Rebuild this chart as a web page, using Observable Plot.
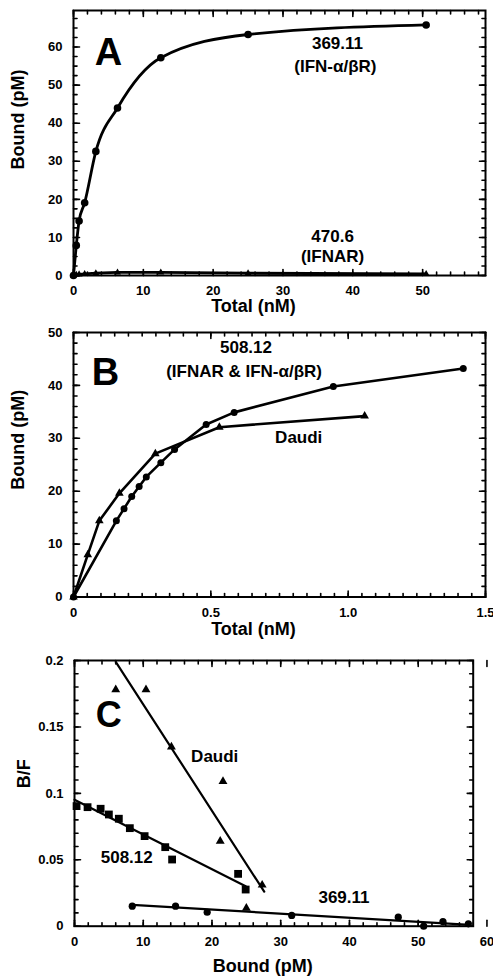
<!DOCTYPE html>
<html><head><meta charset="utf-8">
<script src="https://cdn.jsdelivr.net/npm/d3@7"></script>
<script src="https://cdn.jsdelivr.net/npm/@observablehq/plot@0.6"></script>
<style>
body{margin:0;background:#fff;}
#chart > svg{display:block;}
</style>
</head><body><div id="chart"></div>
<script>
// ---------- Panel A data ----------
const a369Total = [0, 0.4, 0.8, 1.6, 3.2, 6.3, 12.5, 25, 50.5];
const a369Bound = [0, 7.9, 14.3, 19.1, 32.6, 44.0, 57.2, 63.3, 65.8];
const a470Total = [0, 0.4, 0.8, 1.6, 3.2, 6.3, 12.5, 25, 50.5];
const a470Bound = [0, 0.2, 0.3, 0.4, 0.6, 0.8, 0.8, 0.6, 0.4];
const aXTicks = [0, 10, 20, 30, 40, 50];
const aYTicks = [0, 10, 20, 30, 40, 50, 60];
const aLabels = ["369.11", "(IFN-α/βR)", "470.6", "(IFNAR)"];
const aLabelX = [37.8, 37.5, 37.1, 37.1];
const aLabelY = [61.0, 54.9, 10.2, 5.0];

// ---------- Panel B data ----------
const b508Total = [0, 0.156, 0.184, 0.212, 0.239, 0.265, 0.318, 0.368, 0.483, 0.585, 0.946, 1.419];
const b508Bound = [0, 14.4, 16.7, 19.0, 20.9, 22.7, 25.4, 27.9, 32.6, 34.9, 39.8, 43.2];
const bDaudiTotal = [0, 0.052, 0.094, 0.167, 0.298, 0.531, 1.06];
const bDaudiBound = [0, 8.0, 14.4, 19.6, 27.1, 32.1, 34.2];
const bXTicks = [0, 0.5, 1.0, 1.5];
const bYTicks = [0, 10, 20, 30, 40, 50];
const bLabels = ["508.12", "(IFNAR & IFN-α/βR)", "Daudi"];
const bLabelX = [0.628, 0.621, 0.82];
const bLabelY = [47.1, 42.7, 30.2];

// ---------- Panel C data (Scatchard) ----------
const cDaudiBound = [6.0, 10.4, 14.1, 21.6, 21.2, 27.3, 25.0];
const cDaudiBF = [0.178, 0.178, 0.135, 0.109, 0.064, 0.031, 0.0136];
const c508Bound = [0.3, 1.9, 3.8, 5.0, 6.45, 8.05, 10.2, 13.2, 14.2, 23.8, 24.9];
const c508BF = [0.0904, 0.0896, 0.0884, 0.0841, 0.0809, 0.0738, 0.0678, 0.0595, 0.0502, 0.0394, 0.0276];
const c369Bound = [8.4, 14.7, 19.3, 31.6, 47.1, 50.8, 53.6, 57.3];
const c369BF = [0.0151, 0.0151, 0.0105, 0.0081, 0.0068, 0.0, 0.0035, 0.0018];
const cDaudiFitX = [6.0, 27.6], cDaudiFitY = [0.199, 0.026];
const c508FitX = [0, 24.9], c508FitY = [0.0952, 0.0301];
const c369FitX = [8.4, 57.5], c369FitY = [0.0161, 0.001];
const cXTicks = [0, 10, 20, 30, 40, 50, 60];
const cYTicks = [0, 0.05, 0.1, 0.15, 0.2];
const cLabels = ["Daudi", "508.12", "369.11"];
const cLabelX = [20.4, 7.6, 39.2];
const cLabelY = [0.1278, 0.052, 0.0218];

const FONT = "Liberation Sans, Arial, Helvetica, sans-serif";
const pts = (xs, ys) => xs.map((x, i) => ({x, y: ys[i]}));
const lbl = (ts, xs, ys) => ts.map((t, i) => ({t, x: xs[i], y: ys[i]}));
const range = (a, b, s) => d3.range(Math.round((b - a) / s) + 1).map(i => +(a + i * s).toFixed(4));

// inward tick segments on all four sides; pixel lengths converted to data units of each scale
function axes({xd, yd, fw, fh, xMajor, yMajor, xMinor, yMinor, xFmt, yFmt}) {
  const ux = (xd[1] - xd[0]) / fw, uy = (yd[1] - yd[0]) / fh;
  const segs = [];
  let k = 0;
  const addX = (ticks, len) => ticks.forEach(v => {
    segs.push({x: v, y: yd[0], z: k}, {x: v, y: yd[0] + len * uy, z: k}); k++;
    segs.push({x: v, y: yd[1], z: k}, {x: v, y: yd[1] - len * uy, z: k}); k++;
  });
  const addY = (ticks, len) => ticks.forEach(v => {
    segs.push({x: xd[0], y: v, z: k}, {x: xd[0] + len * ux, y: v, z: k}); k++;
    segs.push({x: xd[1], y: v, z: k}, {x: xd[1] - len * ux, y: v, z: k}); k++;
  });
  addX(xMajor, 6); addX(xMinor, 3.5); addY(yMajor, 6); addY(yMinor, 3.5);
  const lab = {label: null, tickSize: 0, fontSize: 13, fontWeight: "bold", fontFamily: FONT, fill: "black"};
  return [
    Plot.line(segs, {x: "x", y: "y", z: "z", stroke: "black", strokeWidth: 1.6}),
    Plot.axisX({...lab, ticks: xMajor.filter(v => v <= xd[1] + 1e-9), tickFormat: xFmt, tickPadding: 10.5}),
    Plot.axisY({...lab, ticks: yMajor, tickFormat: yFmt, tickPadding: 11}),
    Plot.frame({stroke: "black", strokeWidth: 2, fill: "none"})
  ];
}

function titles(xTitle, xdx, xdy, yTitle, ydx, ydy) {
  const o = {text: d => d, fontSize: 18, fontWeight: "bold", fontFamily: FONT, lineAnchor: "middle", fill: "black"};
  return [
    Plot.text([xTitle], {...o, frameAnchor: "bottom", dx: xdx, dy: xdy}),
    Plot.text([yTitle], {...o, frameAnchor: "left", rotate: -90, dx: ydx, dy: ydy})
  ];
}

const root = document.getElementById("chart");
const txt = {fontSize: 17, fontWeight: "bold", fontFamily: FONT, fill: "black"};

// ---------- Panel A ----------
const aX = [0, 59], aY = [0, 69.6];
root.append(Plot.plot({
  width: 493, height: 320,
  marginLeft: 73, marginRight: 8, marginTop: 10, marginBottom: 45,
  x: {domain: aX},
  y: {domain: aY},
  marks: [
    ...axes({xd: aX, yd: aY, fw: 412, fh: 265, xMajor: aXTicks, yMajor: aYTicks, xMinor: range(0, 58, 2), yMinor: range(0, 67.5, 2.5), xFmt: d => String(d), yFmt: d => String(d)}),
    Plot.line(pts(a470Total, a470Bound), {x: "x", y: "y", stroke: "black", strokeWidth: 2.8}),
    Plot.dot(pts(a470Total, a470Bound), {x: "x", y: "y", symbol: "triangle", r: 2.6, fill: "black"}),
    Plot.line(pts(a369Total, a369Bound), {x: "x", y: "y", curve: "monotone-x", stroke: "black", strokeWidth: 2.8}),
    Plot.dot(pts(a369Total, a369Bound), {x: "x", y: "y", symbol: "circle", r: 3.8, fill: "black"}),
    Plot.text(lbl(aLabels, aLabelX, aLabelY), {x: "x", y: "y", text: "t", ...txt}),
    Plot.text(["A"], {x: 5.0, y: 58.6, text: d => d, ...txt, fontSize: 38}),
    ...titles("Total (nM)", -26, 31, "Bound (pM)", -55, 26.5)
  ]
}));

// ---------- Panel B ----------
const bX = [0, 1.5], bY = [0, 50];
root.append(Plot.plot({
  width: 493, height: 320,
  marginLeft: 73, marginRight: 8, marginTop: 12, marginBottom: 43.5,
  x: {domain: bX},
  y: {domain: bY},
  marks: [
    ...axes({xd: bX, yd: bY, fw: 412, fh: 264.5, xMajor: bXTicks, yMajor: bYTicks, xMinor: range(0, 1.5, 0.05), yMinor: range(0, 50, 2), xFmt: d => d === 0 ? "0" : d.toFixed(1), yFmt: d => String(d)}),
    Plot.line(pts(bDaudiTotal, bDaudiBound), {x: "x", y: "y", stroke: "black", strokeWidth: 2.6}),
    Plot.dot(pts(bDaudiTotal, bDaudiBound), {x: "x", y: "y", symbol: "triangle", r: 3.2, fill: "black"}),
    Plot.line(pts(b508Total, b508Bound), {x: "x", y: "y", stroke: "black", strokeWidth: 2.6}),
    Plot.dot(pts(b508Total, b508Bound), {x: "x", y: "y", symbol: "circle", r: 3.5, fill: "black"}),
    Plot.text(lbl(bLabels, bLabelX, bLabelY), {x: "x", y: "y", text: "t", ...txt}),
    Plot.text(["B"], {x: 0.116, y: 42.4, text: d => d, ...txt, fontSize: 38}),
    ...titles("Total (nM)", -26, 32, "Bound (pM)", -55, 25)
  ]
}));

// ---------- Panel C ----------
const cX = [0, 58], cY = [0, 0.2];
root.append(Plot.plot({
  width: 493, height: 340,
  marginLeft: 74, marginRight: 20.3, marginTop: 20, marginBottom: 54.3,
  x: {domain: cX},
  y: {domain: cY},
  marks: [
    ...axes({xd: cX, yd: cY, fw: 398.7, fh: 265.7, xMajor: cXTicks, yMajor: cYTicks, xMinor: range(0, 58, 2), yMinor: range(0, 0.2, 0.01), xFmt: d => String(d), yFmt: d => String(d)}),
    Plot.text(cXTicks.filter(d => d > cX[1]), {x: d => d, frameAnchor: "bottom", text: d => String(d), dy: 10.5, lineAnchor: "top", fontSize: 13, fontWeight: "bold", fontFamily: FONT, fill: "black"}),
    Plot.line(pts(cDaudiFitX, cDaudiFitY), {x: "x", y: "y", stroke: "black", strokeWidth: 2.2}),
    Plot.line(pts(c508FitX, c508FitY), {x: "x", y: "y", stroke: "black", strokeWidth: 2.2}),
    Plot.line(pts(c369FitX, c369FitY), {x: "x", y: "y", stroke: "black", strokeWidth: 2.2}),
    Plot.dot(pts(cDaudiBound, cDaudiBF), {x: "x", y: "y", symbol: "triangle", r: 3.3, fill: "black"}),
    Plot.dot(pts(c508Bound, c508BF), {x: "x", y: "y", symbol: "square", r: 4.4, fill: "black"}),
    Plot.dot(pts(c369Bound, c369BF), {x: "x", y: "y", symbol: "circle", r: 3.6, fill: "black"}),
    Plot.text(lbl(cLabels, cLabelX, cLabelY), {x: "x", y: "y", text: "t", ...txt}),
    Plot.text(["C"], {x: 5.0, y: 0.1587, text: d => d, ...txt, fontSize: 36}),
    ...titles("Bound (pM)", -11, 40, "B/F", -50, -5)
  ]
}));
</script></body></html>
